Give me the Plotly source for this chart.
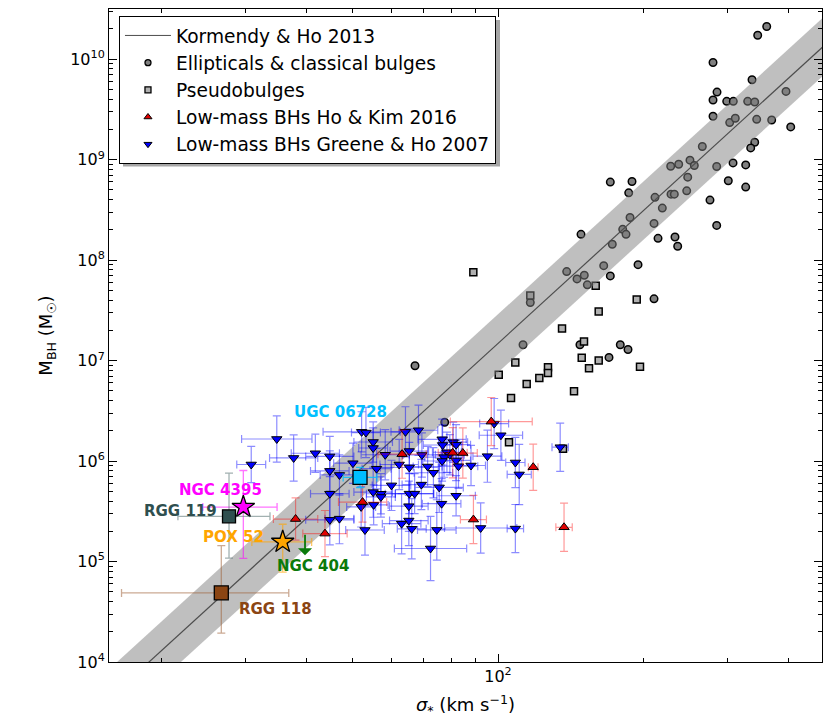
import numpy as np
import plotly.graph_objects as go

# ---------------- data (log10 values) ----------------
# Kormendy & Ho 2013 relation: log M = KH_A + KH_B * log(sigma / 200), scatter KH_S dex
KH_A = 8.49
KH_B = 4.38
KH_S = 0.29

# Ellipticals & classical bulges
ell_log_sigma = [2.5575, 2.5388, 2.4461, 2.527, 2.4544, 2.4461, 2.4745, 2.4882, 2.518, 2.5326,
                 2.5975, 2.4461, 2.4807, 2.4923, 2.5367, 2.5678, 2.6073, 2.4239, 2.5326, 2.5243,
                 2.3583, 2.3749, 2.3983, 2.4073, 2.4537, 2.4876, 2.5139, 2.3936, 2.4778, 2.5139,
                 2.233, 2.278, 2.2712, 2.3257, 2.3589, 2.3658, 2.3915, 2.4398, 2.3409, 2.2739,
                 2.3237, 2.4537, 2.2587, 2.2656, 2.332, 2.3672, 2.3728, 2.2371, 2.1722, 2.1425,
                 2.179, 2.1639, 2.2193, 2.233, 2.1853, 2.067, 2.0519, 2.170, 2.2537, 2.2697,
                 2.2303, 1.8894, 2.2905, 2.3237, 1.8278]
ell_log_mbh = [10.326, 10.239, 9.968, 9.796, 9.673, 9.594, 9.581, 9.581, 9.581, 9.574,
               9.680, 9.432, 9.369, 9.412, 9.402, 9.395, 9.326, 9.131, 9.174, 9.117,
               8.935, 8.955, 8.995, 8.942, 8.932, 8.968, 8.948, 8.826, 8.790, 8.727,
               8.777, 8.783, 8.670, 8.625, 8.657, 8.657, 8.690, 8.598, 8.518, 8.425,
               8.366, 8.346, 8.307, 8.257, 8.217, 8.230, 8.138, 8.158, 8.257, 7.886,
               7.850, 7.813, 7.945, 7.843, 7.754, 7.578, 7.158, 7.158, 7.158, 7.111,
               7.032, 6.386, 7.955, 7.615, 6.949]

# Pseudobulges
pb_log_sigma = [1.9488, 2.067, 2.2027, 2.2089, 2.1328, 2.1784, 2.1737, 2.2089, 2.1888, 2.0359,
                2.1037, 2.1037, 2.0857, 2.0015, 2.0595, 2.1577, 2.027, 2.2878, 2.2946, 2.0228,
                2.1349]
pb_log_mbh = [7.880, 7.648, 7.744, 7.489, 7.320, 7.191, 7.029, 7.002, 6.923, 6.982,
              6.933, 6.877, 6.827, 6.860, 6.768, 6.694, 6.629, 7.608, 6.939, 6.188,
              6.122]

# Low-mass BHs, Ho & Kim 2016 (errors in dex)
hk_log_sigma = [1.58, 1.641, 1.719, 1.801, 1.906, 1.927, 1.986, 1.949, 2.073, 2.137]
hk_log_mbh = [5.423, 5.278, 5.592, 6.069, 6.082, 6.08, 6.393, 5.418, 5.939, 5.341]
hk_err_sigma = [0.046, 0.046, 0.05, 0.05, 0.03, 0.03, 0.085, 0.027, 0.01, 0.017]
hk_err_mbh = [0.21, 0.23, 0.2, 0.24, 0.25, 0.25, 0.24, 0.24, 0.23, 0.24]

# Low-mass BHs, Greene & Ho 2007 (errors in dex)
gh_log_sigma = [1.541, 1.488, 1.576, 1.621, 1.651, 1.651, 1.671, 1.651, 1.651, 1.671,
                1.699, 1.717, 1.726, 1.741, 1.741, 1.748, 1.741, 1.757, 1.757, 1.779,
                1.742, 1.716, 1.724, 1.766, 1.795, 1.808, 1.835, 1.816, 1.816, 1.842,
                1.854, 1.866, 1.884, 1.885, 1.907, 1.913, 1.894, 1.9, 1.888, 1.884,
                1.913, 1.918, 1.944, 1.978, 2.006, 1.992, 1.841, 1.878, 1.913, 1.816,
                1.827, 1.815, 1.883, 1.815, 1.8, 1.821, 1.873, 1.86, 1.964, 2.036,
                2.044, 2.129, 2.036]
gh_log_mbh = [6.22, 5.966, 6.031, 6.078, 6.046, 5.902, 5.862, 5.675, 5.415, 5.427,
              5.979, 6.291, 6.284, 6.19, 6.13, 5.924, 5.691, 5.675, 5.643, 5.758,
              5.564, 5.544, 5.314, 6.063, 5.966, 6.291, 6.307, 6.1, 5.936, 6.061,
              5.946, 5.884, 6.217, 6.16, 6.188, 6.163, 6.088, 6.063, 6.039, 6.001,
              6.006, 5.949, 5.956, 6.049, 6.257, 6.373, 5.766, 5.738, 5.655, 5.676,
              5.676, 5.551, 5.576, 5.408, 5.377, 5.326, 5.315, 5.13, 5.334, 5.986,
              5.867, 6.138, 5.328]
gh_err_sigma = [0.073, 0.03, 0.05, 0.05, 0.05, 0.04, 0.04, 0.04, 0.05, 0.03,
                0.04, 0.08, 0.03, 0.04, 0.03, 0.03, 0.04, 0.03, 0.03, 0.04,
                0.03, 0.03, 0.04, 0.05, 0.04, 0.03, 0.04, 0.04, 0.06, 0.04,
                0.03, 0.04, 0.05, 0.04, 0.03, 0.03, 0.03, 0.03, 0.04, 0.04,
                0.03, 0.04, 0.03, 0.03, 0.045, 0.03, 0.04, 0.05, 0.04, 0.05,
                0.04, 0.04, 0.04, 0.04, 0.04, 0.03, 0.04, 0.075, 0.075, 0.02,
                0.025, 0.017, 0.017]
gh_err_mbh = [0.23, 0.18, 0.23, 0.19, 0.2, 0.2, 0.2, 0.25, 0.25, 0.25,
              0.2, 0.2, 0.25, 0.2, 0.2, 0.2, 0.25, 0.2, 0.2, 0.25,
              0.2, 0.2, 0.25, 0.25, 0.25, 0.25, 0.25, 0.22, 0.25, 0.22,
              0.2, 0.25, 0.2, 0.2, 0.2, 0.2, 0.2, 0.2, 0.2, 0.2,
              0.2, 0.22, 0.2, 0.26, 0.25, 0.25, 0.25, 0.25, 0.2, 0.2,
              0.2, 0.25, 0.25, 0.25, 0.3, 0.3, 0.3, 0.32, 0.25, 0.25,
              0.3, 0.24, 0.24]

# Individual dwarf galaxies (errors in dex: minus / plus)
obj_names = ["UGC 06728", "NGC 4395", "RGG 119", "POX 52", "RGG 118"]
obj_log_sigma = [1.7137, 1.4716, 1.4419, 1.5533, 1.4259]
obj_log_mbh = [5.837, 5.542, 5.45, 5.195, 4.688]
obj_sig_err_lo = [0.035, 0.084, 0.106, 0.064, 0.207]
obj_sig_err_hi = [0.035, 0.070, 0.085, 0.060, 0.140]
obj_mbh_err_lo = [0.10, 0.51, 0.417, 0.30, 0.40]
obj_mbh_err_hi = [0.10, 0.364, 0.43, 0.176, 0.47]

# NGC 404 upper limit
ngc404_log_sigma = 1.5996
ngc404_log_mbh_limit = 5.281

# axis tick values
x_major = [100]
x_major_text = ["10<sup>2</sup>"]
x_minor = [20, 30, 40, 50, 60, 70, 80, 90, 200, 300, 400]
y_major_exp = [4, 5, 6, 7, 8, 9, 10]

# ---------------- styling ----------------
FONT = "DejaVu Sans"
obj_colors = ["#00BFFF", "#FF00FF", "#2F4F4F", "#FFA500", "#8B4513"]
obj_err_colors = ["rgba(0,191,255,0.8)", "rgba(255,0,255,0.55)", "rgba(100,125,125,0.6)",
                  "rgba(255,165,0,0.6)", "rgba(160,100,60,0.55)"]
obj_symbols = ["square", "star", "square", "star", "square"]
obj_sizes = [14, 17, 13, 17, 14]
# label offsets (pixels) relative to each object
obj_lab_dx = [-20, -23, -10, -49, 16]
obj_lab_dy = [65, 17, 5, 5, -16]
obj_lab_anchor = ["center", "center", "right", "center", "left"]


def lin(a):
    return 10 ** np.asarray(a, dtype=float)


def asym(logv, e_lo, e_hi):
    v = lin(logv)
    return v * (10 ** np.asarray(e_hi) - 1), v * (1 - 10 ** (-np.asarray(e_lo)))


fig = go.Figure()

# ellipticals
fig.add_trace(go.Scatter(
    x=lin(ell_log_sigma), y=lin(ell_log_mbh), mode="markers", showlegend=False,
    marker=dict(symbol="circle", size=7.5, color="#808080", line=dict(color="black", width=1.5))))
# pseudobulges
fig.add_trace(go.Scatter(
    x=lin(pb_log_sigma), y=lin(pb_log_mbh), mode="markers", showlegend=False,
    marker=dict(symbol="square", size=7, color="#b0b0b0", line=dict(color="black", width=1.5))))

# KH13 band and line
s_ends = np.array([10.0, 600.0])
kh = KH_A + KH_B * np.log10(s_ends / 200.0)
fig.add_trace(go.Scatter(
    x=np.concatenate([s_ends, s_ends[::-1]]),
    y=lin(np.concatenate([kh + KH_S, (kh - KH_S)[::-1]])),
    fill="toself", fillcolor="rgba(128,128,128,0.5)", line=dict(width=0),
    mode="lines", showlegend=False, hoverinfo="skip"))
fig.add_trace(go.Scatter(
    x=s_ends, y=lin(kh), mode="lines", showlegend=False,
    line=dict(color="#4d4d4d", width=1.2)))

# Greene & Ho 2007
gp, gm = asym(gh_log_mbh, gh_err_mbh, gh_err_mbh)
sp, sm = asym(gh_log_sigma, gh_err_sigma, gh_err_sigma)
fig.add_trace(go.Scatter(
    x=lin(gh_log_sigma), y=lin(gh_log_mbh), mode="markers", showlegend=False,
    marker=dict(symbol="triangle-down", size=9, color="#0000ff", line=dict(color="black", width=1)),
    error_y=dict(type="data", array=gp, arrayminus=gm, color="rgba(0,0,255,0.45)", thickness=1.2, width=4),
    error_x=dict(type="data", array=sp, arrayminus=sm, color="rgba(0,0,255,0.45)", thickness=1.2, width=4)))

# Ho & Kim 2016
hp, hm = asym(hk_log_mbh, hk_err_mbh, hk_err_mbh)
hsp, hsm = asym(hk_log_sigma, hk_err_sigma, hk_err_sigma)
fig.add_trace(go.Scatter(
    x=lin(hk_log_sigma), y=lin(hk_log_mbh), mode="markers", showlegend=False,
    marker=dict(symbol="triangle-up", size=9, color="#e00000", line=dict(color="black", width=1)),
    error_y=dict(type="data", array=hp, arrayminus=hm, color="rgba(255,0,0,0.4)", thickness=1.2, width=4),
    error_x=dict(type="data", array=hsp, arrayminus=hsm, color="rgba(255,0,0,0.4)", thickness=1.2, width=4)))

# individual objects
for i, nm in enumerate(obj_names):
    yp, ym = asym([obj_log_mbh[i]], [obj_mbh_err_lo[i]], [obj_mbh_err_hi[i]])
    xp, xm = asym([obj_log_sigma[i]], [obj_sig_err_lo[i]], [obj_sig_err_hi[i]])
    fig.add_trace(go.Scatter(
        x=lin([obj_log_sigma[i]]), y=lin([obj_log_mbh[i]]), mode="markers", showlegend=False,
        marker=dict(symbol=obj_symbols[i], size=obj_sizes[i], color=obj_colors[i],
                    line=dict(color="black", width=1.3)),
        error_y=dict(type="data", array=yp, arrayminus=ym, color=obj_err_colors[i], thickness=1.3, width=4),
        error_x=dict(type="data", array=xp, arrayminus=xm, color=obj_err_colors[i], thickness=1.3, width=4)))
    fig.add_annotation(x=obj_log_sigma[i], y=obj_log_mbh[i], text="<b>%s</b>" % nm,
                       showarrow=False, xanchor=obj_lab_anchor[i], yanchor="middle",
                       xshift=obj_lab_dx[i], yshift=obj_lab_dy[i],
                       font=dict(family=FONT, size=15, color=obj_colors[i]))

# NGC 404 upper limit arrow + label
fig.add_annotation(x=ngc404_log_sigma, y=ngc404_log_mbh_limit, text="", showarrow=True,
                   ax=0, ay=-22, yshift=-22, arrowhead=1, arrowsize=1.3, arrowwidth=1.8,
                   arrowcolor="#0a7a0a")
fig.add_annotation(x=ngc404_log_sigma, y=ngc404_log_mbh_limit, text="<b>NGC 404</b>",
                   showarrow=False, xshift=8, yshift=-33,
                   font=dict(family=FONT, size=15, color="#0a7a0a"))

# legend entries (legend-only samples, matplotlib-like small markers)
leg = [
    ("Kormendy & Ho 2013", dict(mode="lines", line=dict(color="#4d4d4d", width=1))),
    ("Ellipticals & classical bulges", dict(mode="markers", marker=dict(
        symbol="circle", size=6, color="#808080", line=dict(color="black", width=1.3)))),
    ("Pseudobulges", dict(mode="markers", marker=dict(
        symbol="square", size=6, color="#b0b0b0", line=dict(color="black", width=1.3)))),
    ("Low-mass BHs Ho & Kim 2016", dict(mode="markers", marker=dict(
        symbol="triangle-up", size=7, color="#e00000", line=dict(color="black", width=1)))),
    ("Low-mass BHs Greene & Ho 2007", dict(mode="markers", marker=dict(
        symbol="triangle-down", size=7, color="#0000ff", line=dict(color="black", width=1)))),
]
for nm, kw in leg:
    fig.add_trace(go.Scatter(x=[None], y=[None], name=nm, showlegend=True, **kw))

axis_common = dict(
    type="log", showgrid=False, zeroline=False, showline=True, linecolor="black", linewidth=1,
    mirror="ticks", ticks="inside", ticklen=8, tickwidth=1, tickcolor="black",
    tickfont=dict(family=FONT, size=16, color="black"), tickmode="array")

fig.update_xaxes(
    **axis_common, range=[1.1929, 2.6722], tickvals=x_major, ticktext=x_major_text,
    minor=dict(tickmode="array", tickvals=x_minor, ticks="inside", ticklen=4, tickcolor="black"),
    title=dict(text="<i>σ</i><sub>*</sub> (km s<sup>−1</sup>)", standoff=13,
               font=dict(family=FONT, size=18, color="black")))

y_minor = [m * 10 ** e for e in y_major_exp[:-1] for m in range(2, 10)] + [2e10, 3e10]
fig.update_yaxes(
    **axis_common, range=[4, 10.5], tickvals=[10 ** e for e in y_major_exp],
    ticktext=["10<sup>%d</sup>" % e for e in y_major_exp],
    minor=dict(tickmode="array", tickvals=y_minor, ticks="inside", ticklen=4, tickcolor="black"),
    title=dict(text="M<sub>BH</sub> (M<sub>☉</sub>)", standoff=12,
               font=dict(family=FONT, size=18, color="black")))

# legend shadow (matplotlib-style), peeking out from behind the legend box
fig.add_shape(type="rect", xref="paper", yref="paper", layer="above",
              x0=(123 - 109) / 713, x1=(500 - 109) / 713,
              y0=1 - (166 - 8) / 655, y1=1 - (19 - 8) / 655,
              fillcolor="rgba(0,0,0,0.35)", line=dict(width=0))

fig.update_layout(
    width=831, height=720, margin=dict(l=109, r=9, t=8, b=57),
    paper_bgcolor="white", plot_bgcolor="white",
    font=dict(family=FONT, color="black"),
    legend=dict(x=0.014, y=0.9895, xanchor="left", yanchor="top", bgcolor="white",
                bordercolor="black", borderwidth=1, font=dict(family=FONT, size=18.6, color="black"),
                tracegroupgap=0, itemwidth=46),
    showlegend=True)

fig.write_html("out.html")
